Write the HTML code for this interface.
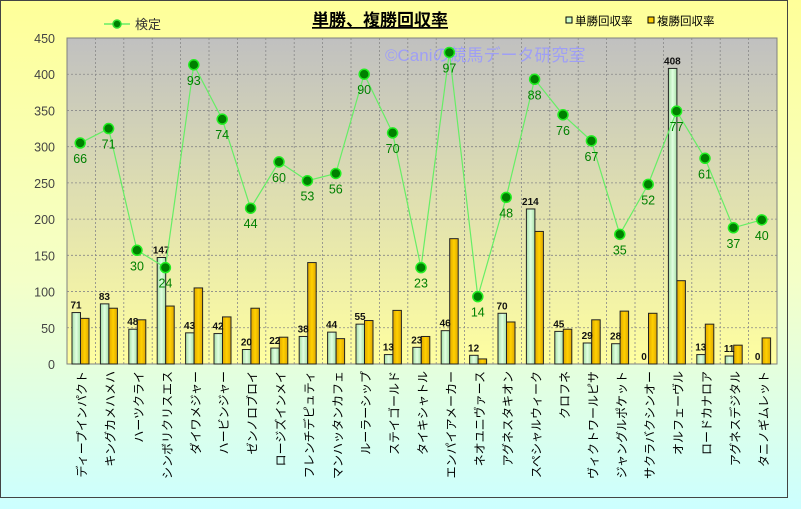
<!DOCTYPE html>
<html><head><meta charset="utf-8"><style>
html,body{margin:0;padding:0;width:801px;height:509px;overflow:hidden;background:#fff}
svg text{font-family:"Liberation Sans","Noto Sans CJK JP",sans-serif}
</style></head><body>
<svg id="s" width="801" height="509" xmlns="http://www.w3.org/2000/svg">
<defs>
<linearGradient id="bg" x1="0" y1="0" x2="0" y2="1"><stop offset="0" stop-color="#ffff99"/><stop offset="0.55" stop-color="#f4ffc8"/><stop offset="1" stop-color="#ccffff"/></linearGradient>
<linearGradient id="pa" x1="0" y1="0" x2="0" y2="1"><stop offset="0" stop-color="#c0c0c0"/><stop offset="1" stop-color="#ffffa0"/></linearGradient>
<linearGradient id="gb" x1="0" y1="0" x2="1" y2="0"><stop offset="0" stop-color="#a8e0a8"/><stop offset="0.5" stop-color="#e0ffe0"/><stop offset="1" stop-color="#a8e0a8"/></linearGradient>
<linearGradient id="ob" x1="0" y1="0" x2="1" y2="0"><stop offset="0" stop-color="#e0a800"/><stop offset="0.5" stop-color="#ffd000"/><stop offset="1" stop-color="#e0a800"/></linearGradient>
</defs>
<rect x="0" y="0" width="801" height="509" fill="url(#bg)"/>
<rect x="0.5" y="0.5" width="787" height="497" fill="none" stroke="#444" stroke-width="1"/>
<rect x="67" y="38" width="710" height="326" fill="url(#pa)" stroke="#808080"/>
<g id="grid"></g>
<g id="bars"></g>
<text x="380" y="26" font-size="17" font-weight="bold" text-anchor="middle" text-decoration="underline" fill="#000">単勝、複勝回収率</text>
<text x="385" y="61" font-size="17" fill="#9999ff" opacity="0.85">©Caniの競馬データ研究室</text>
<line x1="104" y1="24" x2="130" y2="24" stroke="#66ee66" stroke-width="1.5"/>
<circle cx="117" cy="24" r="4" fill="#008000" stroke="#33dd33" stroke-width="1.5"/>
<text x="135" y="29" font-size="13" fill="#333">検定</text>
<rect x="566" y="17" width="6" height="6" fill="#ccffcc" stroke="#000"/>
<text x="575" y="25" font-size="11.5" fill="#000">単勝回収率</text>
<rect x="648" y="17" width="6" height="6" fill="#ffcc00" stroke="#000"/>
<text x="657" y="25" font-size="11.5" fill="#000">複勝回収率</text>
<g id="line"></g>
<g id="xl"></g>
</svg>
<script>
var names=["ディープインパクト","キングカメハメハ","ハーツクライ","シンボリクリスエス","ダイワメジャー","ハービンジャー","ゼンノロブロイ","ロージズインメイ","フレンチデピュティ","マンハッタンカフェ","ルーラーシップ","ステイゴールド","タイキシャトル","エンパイアメーカー","ネオユニヴァース","アグネスタキオン","スペシャルウィーク","クロフネ","ヴィクトワールピサ","ジャングルポケット","サクラバクシンオー","オルフェーヴル","ロードカナロア","アグネスデジタル","タニノギムレット"];
var tan=[71,83,48,147,43,42,20,22,38,44,55,13,23,46,12,70,214,45,29,28,0,408,13,11,0];
var fuk=[63,77,61,80,105,65,77,37,140,35,60,74,38,173,7,58,183,48,61,73,70,115,55,26,36];
var lv=[305,325,157,133,413,338,215,279,253,263,400,319,133,430,93,230,393,344,308,179,248,349,284,188,199];
var ll=[66,71,30,24,93,74,44,60,53,56,90,70,23,97,14,48,88,76,67,35,52,77,61,37,40];
var NS="http://www.w3.org/2000/svg",L=67,B=364,W=28.4,k=326/450;
function el(p,t,a,txt){var e=document.createElementNS(NS,t);for(var i in a)e.setAttribute(i,a[i]);if(txt!=null)e.textContent=txt;document.getElementById(p).appendChild(e);return e;}
for(var v=0;v<=450;v+=50){var y=B-v*k;if(v>0&&v<450)el("grid","line",{x1:L,x2:777,y1:y,y2:y,stroke:"#888","stroke-dasharray":"2,2","stroke-width":0.8});el("grid","text",{x:55,y:y+5,"font-size":12.5,"text-anchor":"end",fill:"#444"},v);}
for(var i=1;i<25;i++){var x=L+i*W;el("grid","line",{x1:x,x2:x,y1:38,y2:B,stroke:"#888","stroke-dasharray":"2,2","stroke-width":0.8});}
var pts=[];
for(var i=0;i<25;i++){var x0=L+i*W;
var h=tan[i]*k;el("bars","rect",{x:x0+5,y:B-h,width:8.5,height:h,fill:"url(#gb)",stroke:"#222","stroke-width":1});
var h2=fuk[i]*k;el("bars","rect",{x:x0+13.5,y:B-h2,width:8.5,height:h2,fill:"url(#ob)",stroke:"#222","stroke-width":1});
el("bars","text",{x:x0+9,y:B-h-4,"font-size":10,"font-weight":"bold","text-anchor":"middle",fill:"#111"},tan[i]);
var cx=x0+W/2-1,cy=B-lv[i]*k;pts.push(cx+","+cy);
el("xl","text",{transform:"translate("+(x0+W/2+5)+",371) rotate(-90)","font-size":12,"text-anchor":"end",fill:"#000"},names[i]);
}
el("line","polyline",{points:pts.join(" "),fill:"none",stroke:"#66ee66","stroke-width":1.2});
for(var i=0;i<25;i++){var p=pts[i].split(",");el("line","circle",{cx:p[0],cy:p[1],r:5,fill:"#008000",stroke:"#22ee22","stroke-width":1.5});
el("line","text",{x:p[0],y:+p[1]+20,"font-size":12.5,"text-anchor":"middle",fill:"#008000"},ll[i]);}
</script>
</body></html>
